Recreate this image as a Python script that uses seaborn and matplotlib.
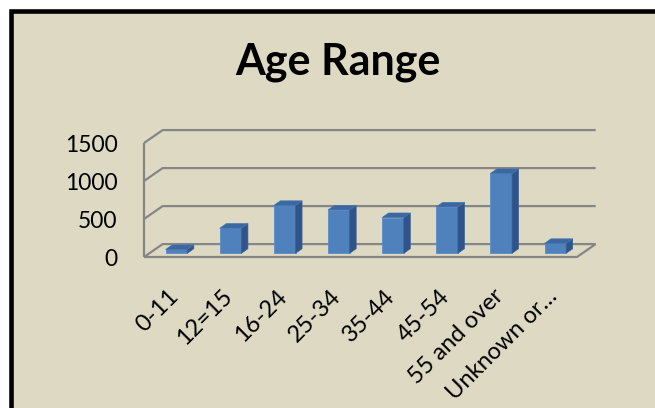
import pandas as pd
import matplotlib
matplotlib.use("Agg")
import matplotlib.pyplot as plt
import seaborn as sns
from matplotlib.patches import Polygon, Rectangle
from matplotlib.transforms import ScaledTranslation

# data
ages = ["0-11", "12=15", "16-24", "25-34", "35-44", "45-54", "55 and over", "Unknown or…"]
counts = [50, 330, 630, 570, 470, 610, 1050, 130]
y_ticks = [0, 500, 1000, 1500]

df = pd.DataFrame({"age": ages, "count": counts})

plt.rcParams["font.family"] = ["Lato", "DejaVu Sans"]

W, H = 655, 408
fig = plt.figure(figsize=(W / 100, H / 100), dpi=100)
fig.patch.set_facecolor("white")

# beige chart area with thick black frame (runs off right and bottom)
fig.patches.append(Rectangle((10.5 / W, -0.2), 1.2, 1.2 - 10.5 / H,
                             transform=fig.transFigure, facecolor="#DDD9C3",
                             edgecolor="black", linewidth=3.3, zorder=-5))

fig.text(338 / W, 1 - 74 / H, "Age Range", ha="center", va="baseline",
         fontsize=31, fontweight="bold", color="black")

ax = fig.add_axes([144 / W, 1 - 257 / H, 433 / W, 114 / H])
ax.set_facecolor("none")

sns.barplot(data=df, x="age", y="count", color="#4F81BD", width=0.4,
            saturation=1, ax=ax, zorder=3)
ax.set_xlim(-0.5, 7.5)
ax.set_ylim(0, 1500)

# fake 3d: depth of the walls and of the bars, in data units
back_dx, back_dy = 0.345, 170
bar_sx, bar_sy = 0.1, 49
bar_dx, bar_dy = 0.12, 60

grid = dict(color="#868686", lw=1.6, clip_on=False, zorder=1, solid_capstyle="butt")
for v in y_ticks:
    ax.plot([-0.5, -0.5 + back_dx, 7.5 + back_dx], [v, v + back_dy, v + back_dy], **grid)
ax.plot([-0.5, -0.5], [0, 1500], **grid)
ax.plot([-0.5, 7.5, 7.5 + back_dx], [0, 0, back_dy], **grid)

for p in list(ax.patches):
    x0 = p.get_x() + bar_sx
    w = p.get_width()
    h = p.get_height()
    p.set_x(x0)
    p.set_y(bar_sy)
    p.set_edgecolor("#5D8CC6")
    p.set_linewidth(0.6)
    p.set_clip_on(False)
    y0 = bar_sy
    side = Polygon([(x0 + w, y0), (x0 + w + bar_dx, y0 + bar_dy),
                    (x0 + w + bar_dx, y0 + h + bar_dy), (x0 + w, y0 + h)],
                   closed=True, facecolor="#30548A", edgecolor="#3A5F92",
                   lw=0.5, zorder=3, clip_on=False)
    top = Polygon([(x0, y0 + h), (x0 + w, y0 + h),
                   (x0 + w + bar_dx, y0 + h + bar_dy), (x0 + bar_dx, y0 + h + bar_dy)],
                  closed=True, facecolor="#3B68A3", edgecolor="#4573AE",
                  lw=0.5, zorder=3, clip_on=False)
    ax.add_patch(side)
    ax.add_patch(top)

for s in ax.spines.values():
    s.set_visible(False)
ax.set_xlabel("")
ax.set_ylabel("")
ax.set_yticks(y_ticks)
ax.tick_params(axis="y", length=0, pad=19, labelsize=16.5, labelcolor="black")
ax.tick_params(axis="x", length=0, pad=26, labelsize=17, labelcolor="black")
ax.set_xticks(range(len(ages)))
ax.set_xticklabels(ages, rotation=45, ha="right", va="center", rotation_mode="anchor")
shift = ScaledTranslation(4 / 100, 0, fig.dpi_scale_trans)
for lab in ax.get_xticklabels():
    lab.set_transform(lab.get_transform() + shift)

fig.savefig("out.png", dpi=100)
